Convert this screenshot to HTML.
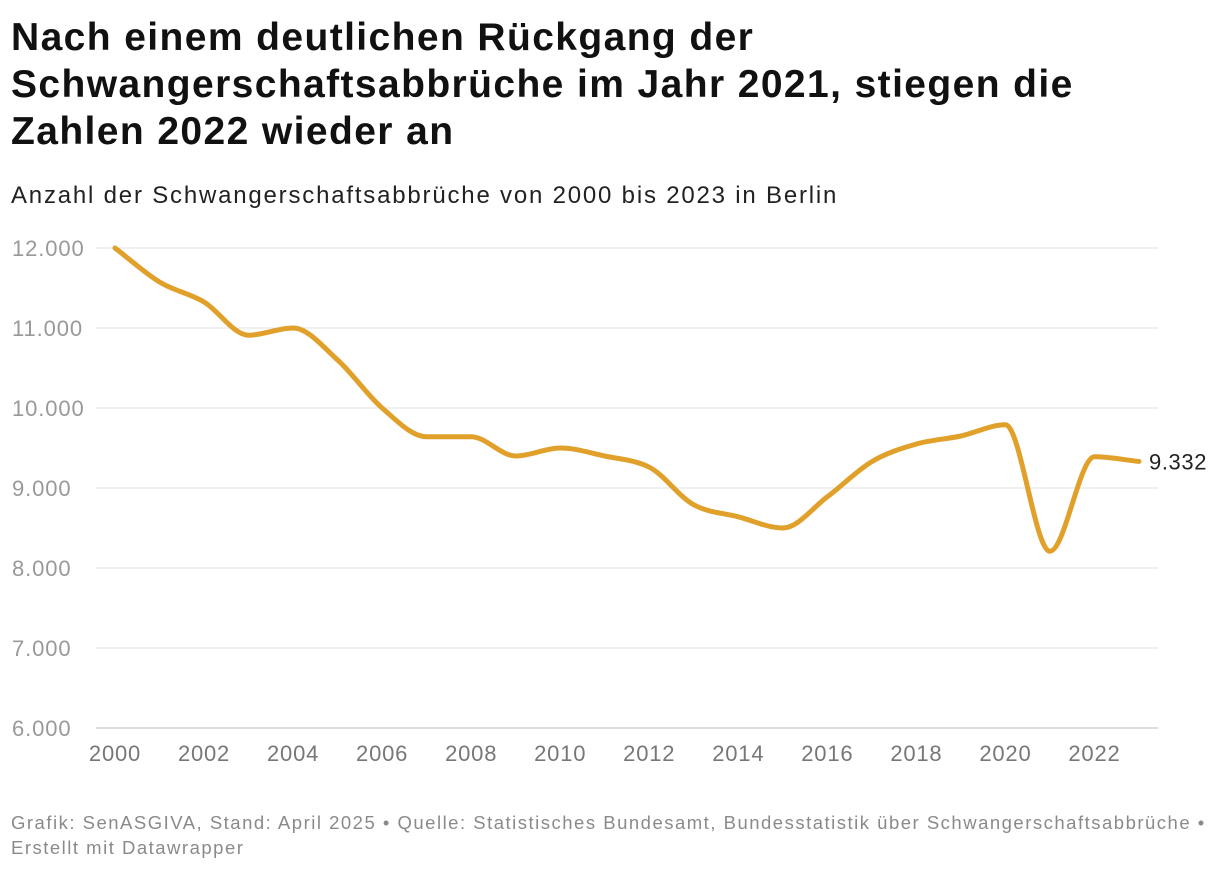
<!DOCTYPE html>
<html><head><meta charset="utf-8">
<style>
body{margin:0;background:#fff;font-family:"Liberation Sans",sans-serif;width:1220px;height:870px;overflow:hidden;position:relative}
h1{position:absolute;left:11px;top:14px;margin:0;font-size:39px;line-height:47px;font-weight:bold;color:#111;width:1100px;letter-spacing:1.4px}
.sub{position:absolute;left:11px;top:182px;font-size:24px;color:#222;letter-spacing:1.8px}
.foot{position:absolute;left:11px;top:810px;font-size:18.5px;line-height:25px;color:#8a8a8a;letter-spacing:1.5px;white-space:nowrap}
svg{position:absolute;left:0;top:0}
</style></head><body>
<h1>Nach einem deutlichen Rückgang der Schwangerschaftsabbrüche im Jahr 2021, stiegen die Zahlen 2022 wieder an</h1>
<div class="sub">Anzahl der Schwangerschaftsabbrüche von 2000 bis 2023 in Berlin</div>
<svg id="chart" width="1220" height="870"></svg>
<div class="foot">Grafik: SenASGIVA, Stand: April 2025 • Quelle: Statistisches Bundesamt, Bundesstatistik über Schwangerschaftsabbrüche •<br>Erstellt mit Datawrapper</div>
<script>
const years=[2000,2001,2002,2003,2004,2005,2006,2007,2008,2009,2010,2011,2012,2013,2014,2015,2016,2017,2018,2019,2020,2021,2022,2023];
const values=[12000,11575,11325,10910,11000,10600,10000,9640,9640,9400,9500,9400,9260,8790,8640,8500,8890,9330,9550,9650,9790,8210,9390,9332];
const yTicks=[6000,7000,8000,9000,10000,11000,12000];
const xTicks=[2000,2002,2004,2006,2008,2010,2012,2014,2016,2018,2020,2022];
const NS="http://www.w3.org/2000/svg";
const svg=document.getElementById('chart');
const X=v=>115+(v-2000)*(1139-115)/23;
const Y=v=>728-(v-6000)*80/1000;
const fmt=v=>v.toLocaleString('de-DE').replace(/,/g,'.');
function el(t,a){const e=document.createElementNS(NS,t);for(const k in a)e.setAttribute(k,a[k]);svg.appendChild(e);return e;}
yTicks.forEach(t=>{
 const l=el('line',{x1:96,x2:1158,y1:Y(t),y2:Y(t),stroke:t===6000?'#bbb':'#e0e0e0','stroke-width':1});
 
 
 const tx=el('text',{x:12,y:Y(t)+8,'font-size':22,fill:'#999','letter-spacing':0.9,'font-family':'Liberation Sans, sans-serif'});
 tx.textContent=fmt(t);
 
 
});
xTicks.forEach(t=>{
 const tx=el('text',{x:X(t),y:761,'font-size':22,fill:'#777','text-anchor':'middle','letter-spacing':0.8,'font-family':'Liberation Sans, sans-serif'});
 tx.textContent=t;
 
 
});
const px=years.map(X),py=values.map(Y),n=px.length;
const d=[],m=[];
for(let i=0;i<n-1;i++)d.push((py[i+1]-py[i])/(px[i+1]-px[i]));
m[0]=d[0];m[n-1]=d[n-2];
for(let i=1;i<n-1;i++){
 const h0=px[i]-px[i-1],h1=px[i+1]-px[i],s0=d[i-1],s1=d[i];
 m[i]=(s0*s1<=0)?0:(Math.sign(s0)+Math.sign(s1))*Math.min(Math.abs(s0),Math.abs(s1),0.5*Math.abs((s0*h1+s1*h0)/(h0+h1)));}
let p=`M${px[0]},${py[0]}`;
for(let i=0;i<n-1;i++){const h=(px[i+1]-px[i])/3;p+=`C${px[i]+h},${py[i]+m[i]*h} ${px[i+1]-h},${py[i+1]-m[i+1]*h} ${px[i+1]},${py[i+1]}`;}
const line=el('path',{d:p,fill:'none',stroke:'#e0a02a','stroke-width':5,'stroke-linecap':'round','stroke-linejoin':'round'});


const lab=el('text',{x:X(2023)+10,y:Y(values[n-1])+8,'font-size':22,fill:'#222','letter-spacing':0.6,'font-family':'Liberation Sans, sans-serif'});
lab.textContent=fmt(values[n-1]);


</script>
</body></html>
